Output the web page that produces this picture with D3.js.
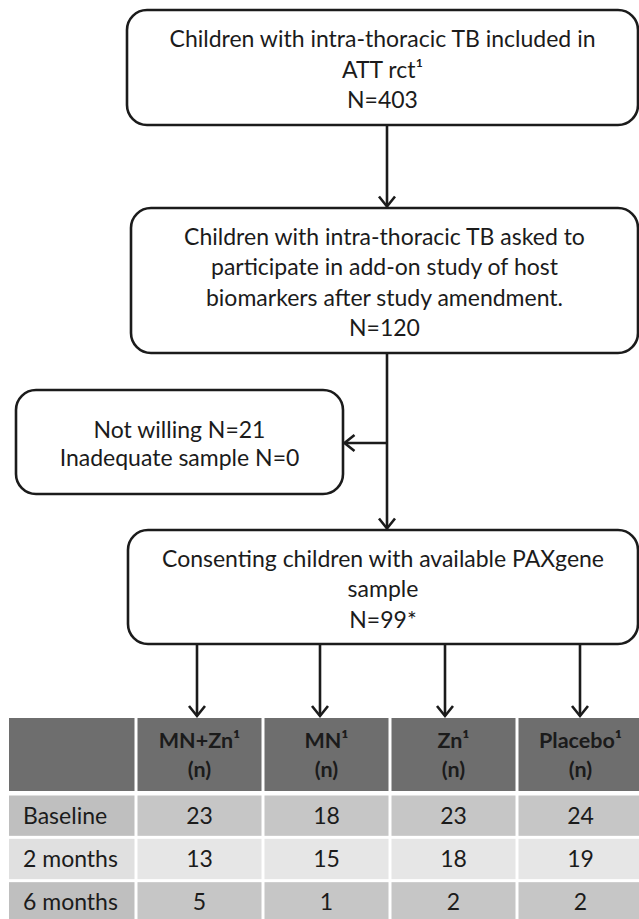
<!DOCTYPE html>
<html>
<head>
<meta charset="utf-8">
<script src="https://cdn.jsdelivr.net/npm/d3@7/dist/d3.min.js"></script>
<style>
  html, body { margin: 0; padding: 0; background: #ffffff; }
  svg { display: block; }
  text { font-family: Lato, "Open Sans", sans-serif; fill: #1b1b1b; }
</style>
</head>
<body>
<div id="chart"></div>
<script>
// ---------- DATA ----------
const flowTitles = [
  ["Children with intra-thoracic TB included in", "ATT rct¹"],
  ["Children with intra-thoracic TB asked to", "participate in add-on study of host", "biomarkers after study amendment."],
  ["Not willing", "Inadequate sample"],
  ["Consenting children with available PAXgene", "sample"]
];
const flowCounts = [403, 120, 21, 0, 99];
const groups = ["MN+Zn", "MN", "Zn", "Placebo"];
const timepoints = ["Baseline", "2 months", "6 months"];
const baselineN = [23, 18, 23, 24];
const twoMonthsN = [13, 15, 18, 19];
const sixMonthsN = [5, 1, 2, 2];

// ---------- LAYOUT ----------
const W = 639, H = 919;
const svg = d3.select("#chart").append("svg").attr("width", W).attr("height", H);

const boxes = [
  { x: 127, y: 10,  w: 511, h: 115, lines: [flowTitles[0][0], flowTitles[0][1], `N=${flowCounts[0]}`] },
  { x: 131, y: 208, w: 507, h: 145, lines: [...flowTitles[1], `N=${flowCounts[1]}`] },
  { x: 16,  y: 390, w: 327, h: 104, lines: [`${flowTitles[2][0]} N=${flowCounts[2]}`, `${flowTitles[2][1]} N=${flowCounts[3]}`], lh: 28.5 },
  { x: 128, y: 530, w: 510, h: 114, lines: [flowTitles[3][0], flowTitles[3][1], `N=${flowCounts[4]}*`] }
];

const stroke = "#1b1b1b";
const sw = 2.6;
const fontSize = 23;

// Boxes
const gBox = svg.append("g");
boxes.forEach(b => {
  gBox.append("rect")
    .attr("x", b.x).attr("y", b.y).attr("width", b.w).attr("height", b.h)
    .attr("rx", 20).attr("ry", 20)
    .attr("fill", "#fff").attr("stroke", stroke).attr("stroke-width", sw);
  const lh = b.lh || 30.5;
  const cy = b.y + b.h / 2 + 2;
  const n = b.lines.length;
  b.lines.forEach((t, i) => {
    gBox.append("text")
      .attr("x", b.x + b.w / 2)
      .attr("y", cy + (i - (n - 1) / 2) * lh + 8)
      .attr("text-anchor", "middle")
      .attr("font-size", fontSize)
      .text(t);
  });
});

// Arrow helper
function line(x1, y1, x2, y2) {
  svg.append("line").attr("x1", x1).attr("y1", y1).attr("x2", x2).attr("y2", y2)
    .attr("stroke", stroke).attr("stroke-width", sw);
}
function head(x, y, dir) {
  const a = 8, l = 10;
  let pts;
  if (dir === "down") pts = [[x - a, y - l], [x, y], [x + a, y - l]];
  else pts = [[x + l, y - a], [x, y], [x + l, y + a]];
  svg.append("path").attr("d", d3.line()(pts))
    .attr("fill", "none").attr("stroke", stroke).attr("stroke-width", sw)
    .attr("stroke-linejoin", "miter");
}
const cx = 387;
line(cx, boxes[0].y + boxes[0].h, cx, boxes[1].y - 1.5); head(cx, boxes[1].y - 1.5, "down");
line(cx, boxes[1].y + boxes[1].h, cx, boxes[3].y - 1.5); head(cx, boxes[3].y - 1.5, "down");
const branchY = 443;
line(cx, branchY, boxes[2].x + boxes[2].w + 1.5, branchY); head(boxes[2].x + boxes[2].w + 1.5, branchY, "left");

// ---------- TABLE ----------
const tableTop = 718, headerH = 73;
const xCol = d3.scaleBand().domain(["", ...groups]).range([9, 644]).paddingInner(0);
const yRow = d3.scaleBand().domain(timepoints).range([794, 924]);
const rowsData = [baselineN, twoMonthsN, sixMonthsN];
const gap = 1.5;

const arrowX = [197, 320, 445, 580];
groups.forEach((g, i) => {
  line(arrowX[i], boxes[3].y + boxes[3].h, arrowX[i], tableTop - 2);
  head(arrowX[i], tableTop - 2, "down");
});

const gT = svg.append("g");
["", ...groups].forEach((g, i) => {
  gT.append("rect")
    .attr("x", xCol(g) + (i === 0 ? 0 : gap)).attr("y", tableTop)
    .attr("width", xCol.bandwidth() - (i === 0 ? gap : 2 * gap)).attr("height", headerH)
    .attr("fill", "#6e6e6e");
  if (g) {
    const tx = xCol(g) + xCol.bandwidth() / 2;
    gT.append("text").attr("x", tx).attr("y", tableTop + 30)
      .attr("text-anchor", "middle").attr("font-size", 21.5).attr("font-weight", "bold")
      .text(g + "¹");
    gT.append("text").attr("x", tx).attr("y", tableTop + 59)
      .attr("text-anchor", "middle").attr("font-size", 21.5).attr("font-weight", "bold")
      .text("(n)");
  }
});

const rowFill = ["#c6c6c6", "#e6e6e6", "#c6c6c6"];
const labelFill = ["#bfbfbf", "#e0e0e0", "#bfbfbf"];
timepoints.forEach((tp, r) => {
  const y0 = yRow(tp) + gap, h = yRow.bandwidth() - 2 * gap;
  gT.append("rect").attr("x", xCol("")).attr("y", y0)
    .attr("width", xCol.bandwidth() - gap).attr("height", h).attr("fill", labelFill[r]);
  gT.append("text").attr("x", xCol("") + 14).attr("y", y0 + h / 2 + 8)
    .attr("font-size", fontSize).text(tp);
  groups.forEach((g, i) => {
    gT.append("rect").attr("x", xCol(g) + gap).attr("y", y0)
      .attr("width", xCol.bandwidth() - 2 * gap).attr("height", h).attr("fill", rowFill[r]);
    gT.append("text").attr("x", xCol(g) + xCol.bandwidth() / 2).attr("y", y0 + h / 2 + 8)
      .attr("text-anchor", "middle").attr("font-size", fontSize).text(rowsData[r][i]);
  });
});
</script>
</body>
</html>
